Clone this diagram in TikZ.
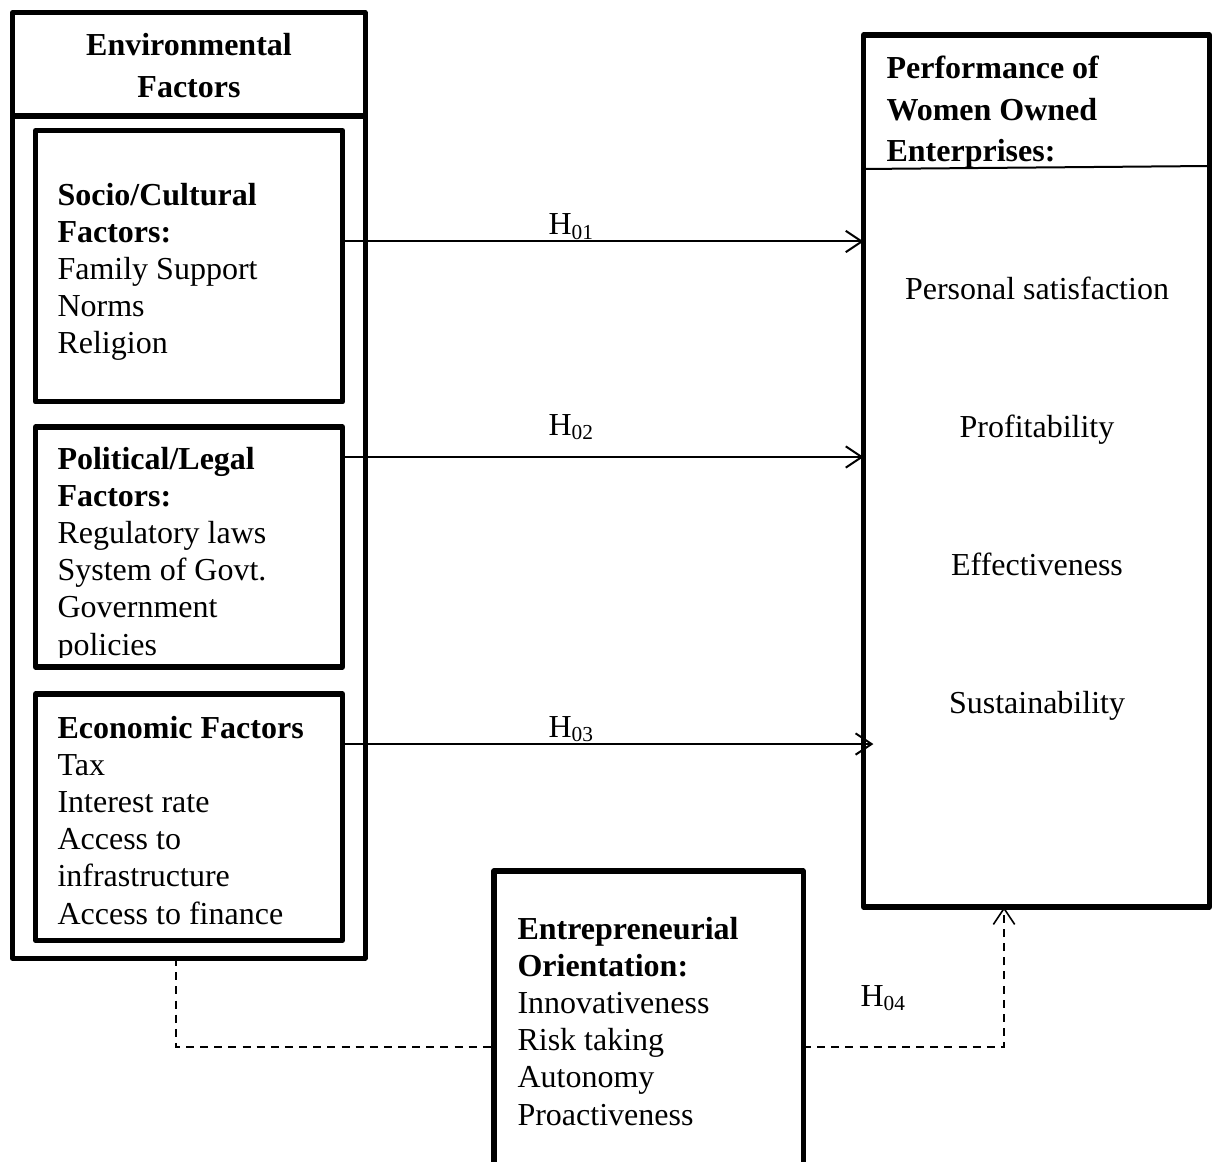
\documentclass[tikz,border=0pt]{standalone}
\usepackage{fontspec}
\setmainfont{Liberation Serif}
\usetikzlibrary{arrows.meta,calc}
\begin{document}
\begin{tikzpicture}[x=0.375pt,y=-0.375pt,
  box/.style={draw, line width=1.9pt, line join=round, inner sep=0pt, outer sep=0pt, anchor=north west},
  txt/.style={inner sep=0pt, font=\fontsize{12pt}{13.9pt}\selectfont, align=left, anchor=base west},
  item/.style={inner sep=0pt, font=\fontsize{12pt}{13.9pt}\selectfont, anchor=base},
  conn/.style={line width=0.75pt, -{Straight Barb[length=6pt,width=8pt,line width=0.75pt]}},
  dconn/.style={line width=0.6pt, dash pattern=on 3pt off 2.3pt},
  hlab/.style={inner sep=0pt, anchor=base west, font=\fontsize{12pt}{14pt}\selectfont}]
\useasboundingbox (0,0) rectangle (1214,1162);
\clip (0,0) rectangle (1214,1162);

% Environmental factors (outer box)
\node[box, minimum width=132.2pt, minimum height=354.6pt] (env) at (12.5,12.5) {};
\draw[line width=1.9pt] ($(env.north west)+(0,103.5)$) -- ($(env.north east)+(0,103.5)$);
\node[inner sep=0pt, align=center, anchor=base, font=\fontsize{12pt}{16.1pt}\selectfont\bfseries] (envt) at (189,98) {Environmental\\Factors};

% inner boxes
\node[box, minimum width=115.1pt, minimum height=101.8pt] (soc) at (35.5,130.5) {};
\node[box, minimum width=115.1pt, minimum height=90pt] (pol) at (35.5,427) {};
\node[box, minimum width=115.1pt, minimum height=92.4pt] (eco) at (35.5,694) {};

\node[txt] (soct) at (57,354) {\textbf{Socio/Cultural}\\\textbf{Factors:}\\Family Support\\Norms\\Religion};
\begin{scope}
  \clip (35,427) rectangle (344,657);
  \node[txt] (polt) at (57,655) {\textbf{Political/Legal}\\\textbf{Factors:}\\Regulatory laws\\System of Govt.\\Government\\policies};
\end{scope}
\node[txt] (ecot) at (57,924) {\textbf{Economic Factors}\\Tax\\Interest rate\\Access to\\infrastructure\\Access to finance};

% Performance box
\node[box, minimum width=129.75pt, minimum height=327pt] (perf) at (863.5,35) {};
\draw[line width=0.75pt] ($(perf.north west)+(0,134)$) -- ($(perf.north east)+(0,131)$);
\node[inner sep=0pt, align=left, anchor=base west, font=\fontsize{12pt}{15.6pt}\selectfont\bfseries] (perft) at (886,162) {Performance of\\Women Owned\\Enterprises:};
\node[item] (p1) at (1037,300) {Personal satisfaction};
\node[item] (p2) at (1037,438) {Profitability};
\node[item] (p3) at (1037,575) {Effectiveness};
\node[item] (p4) at (1037,713) {Sustainability};

% Entrepreneurial orientation box (cut by the page edge)
\node[box, minimum width=115.9pt, minimum height=123.4pt] (eo) at (494,871) {};
\node[txt] (eot) at (517,1125) {\textbf{Entrepreneurial}\\\textbf{Orientation:}\\Innovativeness\\Risk taking\\Autonomy\\Proactiveness};

% hypothesis connectors
\coordinate (y1) at (0,241.5);
\coordinate (y2) at (0,457);
\coordinate (y3) at (0,744);
\coordinate (yd) at (0,1047);
\coordinate (xl) at (176,0);
\coordinate (xr) at (1004,0);

\draw[conn] (soc.east |- y1) -- (perf.west |- y1);
\draw[conn] (pol.east |- y2) -- (perf.west |- y2);
\draw[conn, shorten >=-3.7pt] (eco.east |- y3) -- (perf.west |- y3);

\node[hlab] (h1) at (548,235) {H\textsubscript{01}};
\node[hlab] (h2) at (548,435) {H\textsubscript{02}};
\node[hlab] (h3) at (548,737) {H\textsubscript{03}};
\node[hlab] (h4) at (860,1006) {H\textsubscript{04}};

% moderating (dashed) connectors
\draw[dconn] (env.south -| xl) |- (eo.west |- yd);
\draw[dconn, -{Straight Barb[length=6pt,width=8pt,line width=0.6pt]}] (eo.east |- yd) -| (perf.south -| xr);
\end{tikzpicture}
\end{document}
